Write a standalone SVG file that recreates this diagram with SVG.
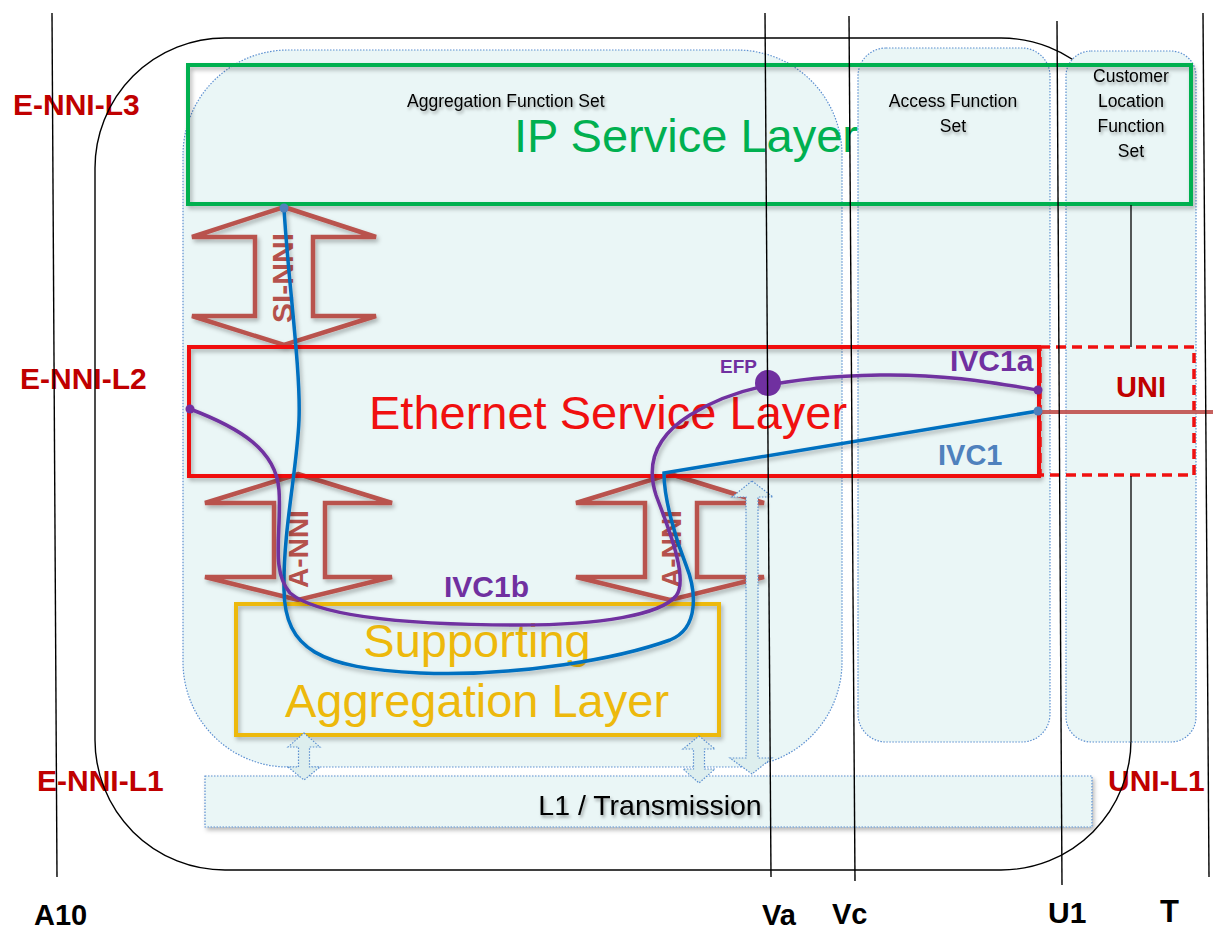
<svg xmlns="http://www.w3.org/2000/svg" width="1213" height="933" viewBox="0 0 1213 933">
<defs>
<filter id="sh" x="-10%" y="-10%" width="130%" height="130%">
<feDropShadow dx="2" dy="3" stdDeviation="2" flood-color="#000" flood-opacity="0.28"/>
</filter>
<filter id="tsh" x="-10%" y="-30%" width="130%" height="180%">
<feDropShadow dx="1.5" dy="2.5" stdDeviation="1.5" flood-color="#000" flood-opacity="0.35"/>
</filter>
</defs>
<style>
.fs{fill:#EAF6F6;stroke:#5B8FD0;stroke-width:1.2;stroke-dasharray:1.5 1.5}
.blk{fill:none;stroke:#000;stroke-width:1.4}
.if{fill:none;stroke:#C0504D;stroke-width:4;filter:url(#sh)}
.lab{font-family:"Liberation Sans",Arial,sans-serif;font-weight:bold;font-size:30px;fill:#C00000}
.ax{font-family:"Liberation Sans",Arial,sans-serif;font-weight:bold;fill:#000}
.sm{font-family:"Liberation Sans",Arial,sans-serif;font-size:17.5px;fill:#000;filter:url(#tsh)}
.big{font-family:"Liberation Sans",Arial,sans-serif;font-size:47px}
.arr{fill:none;stroke:#B9534E;stroke-width:4.5;stroke-linejoin:miter;filter:url(#sh)}
.rl{font-family:"Liberation Sans",Arial,sans-serif;font-weight:bold;fill:#B5514C}
.da{fill:#DDEEEE;stroke:#5B8FD0;stroke-width:1.2;stroke-dasharray:1.5 1.5}
.ivc{font-family:"Liberation Sans",Arial,sans-serif;font-weight:bold}
</style>

<g id="interface-labels">
<text class="lab" x="13" y="115">E-NNI-L3</text>
<line class="if" x1="9" y1="136" x2="187" y2="136"/>
<text class="lab" x="20" y="389">E-NNI-L2</text>
<line class="if" x1="20" y1="410" x2="190" y2="410"/>
<text class="lab" x="37" y="791">E-NNI-L1</text>
<line class="if" x1="32" y1="803" x2="204" y2="803"/>
<text class="lab" x="1108" y="791">UNI-L1</text>
<line class="if" x1="1095" y1="805" x2="1213" y2="805"/>
</g>

<g id="network-boundary">
<rect class="blk" x="95" y="38" width="1036" height="832" rx="130" ry="130"/>
</g>

<g id="aggregation-function-set">
<rect class="fs" x="183" y="50" width="659" height="717" rx="105" ry="105"/>
<text class="sm" x="407" y="107" font-size="18">Aggregation Function Set</text>
</g>
<g id="access-function-set">
<rect class="fs" x="858" y="48" width="192" height="694" rx="28" ry="28"/>
<text class="sm" x="953" y="107" text-anchor="middle">Access Function</text>
<text class="sm" x="953" y="132" text-anchor="middle">Set</text>
</g>
<g id="customer-location-function-set">
<rect class="fs" x="1066" y="51" width="130" height="691" rx="25" ry="25"/>
<text class="sm" x="1131" y="82" text-anchor="middle">Customer</text>
<text class="sm" x="1131" y="107" text-anchor="middle">Location</text>
<text class="sm" x="1131" y="132" text-anchor="middle">Function</text>
<text class="sm" x="1131" y="157" text-anchor="middle">Set</text>
</g>
<g id="l1-transmission">
<rect class="fs" x="205" y="776" width="887" height="51" filter="url(#sh)"/>
<text x="650" y="815" text-anchor="middle" font-family="'Liberation Sans',Arial,sans-serif" font-size="28.5" fill="#000" filter="url(#tsh)">L1 / Transmission</text>
</g>

<g id="ip-service-layer">
<rect x="188" y="65" width="1003" height="139" fill="none" stroke="#00B050" stroke-width="4" filter="url(#sh)"/>
<text class="big" x="514" y="152" fill="#00B050">IP Service Layer</text>
</g>

<g id="si-nni">
<polygon class="arr" points="284,207 376,237 313,237 313,316 376,316 284,345 192,316 255,316 255,237 192,237"/>
<text class="rl" font-size="30" text-anchor="middle" transform="translate(293,278) rotate(-90)">SI-NNI</text>
</g>
<g id="a-nni-left">
<polygon class="arr" points="298,474 392,503 325,503 325,577 392,577 298,600 205,577 274,577 274,503 205,503"/>
<text class="rl" font-size="28" text-anchor="middle" transform="translate(308,549) rotate(-90)">A-NNI</text>
</g>
<g id="a-nni-right">
<polygon class="arr" points="670,474 764,503 697,503 697,577 764,577 670,600 576,577 645,577 645,503 576,503"/>
<text class="rl" font-size="28" text-anchor="middle" transform="translate(681,549) rotate(-90)">A-NNI</text>
</g>

<g id="ethernet-service-layer">
<rect x="189" y="347" width="850" height="129" fill="none" stroke="#F01010" stroke-width="4" filter="url(#sh)"/>
<text class="big" x="369" y="429" fill="#F01010" font-size="47.5">Ethernet Service Layer</text>
</g>
<g id="uni">
<rect x="1040" y="347" width="154" height="128" fill="none" stroke="#F01010" stroke-width="3.5" stroke-dasharray="10 6"/>
<text class="ivc" x="1116" y="397" font-size="29" fill="#C00000">UNI</text>
</g>
<g id="supporting-aggregation-layer">
<rect x="236" y="604" width="483" height="131" fill="none" stroke="#EDB90C" stroke-width="4" filter="url(#sh)"/>
<text class="big" x="477" y="657" text-anchor="middle" fill="#EDB90C">Supporting</text>
<text class="big" x="477" y="717" text-anchor="middle" fill="#EDB90C">Aggregation Layer</text>
</g>

<g id="connectors">
<line x1="1040" y1="412" x2="1213" y2="412" stroke="#C0504D" stroke-width="4" opacity="0.9"/>
<path d="M284,208 C288,280 301,370 299,420 C297,470 283,530 284,590 C285,650 320,668 420,673 C520,677 620,658 670,640 C700,628 696,590 686,565 C676,540 664,500 664,473 L1038,411" fill="none" stroke="#0070C0" stroke-width="3.5" filter="url(#sh)"/>
<path d="M190,409 C240,428 276,450 279,490 C282,530 270,570 290,593 C320,618 420,625 520,625 C600,625 660,615 676,596 C690,578 665,520 656,495 C648,470 650,440 690,415 C730,390 780,377 880,375 C950,374 1000,384 1038,390" fill="none" stroke="#7030A0" stroke-width="3.5" filter="url(#sh)"/>
<circle cx="284" cy="208" r="4.5" fill="#4F81BD"/>
<circle cx="1038" cy="411" r="4.5" fill="#4F81BD"/>
<circle cx="190" cy="409" r="4.5" fill="#7030A0"/>
<circle cx="1038" cy="390" r="4.5" fill="#7030A0"/>
<circle cx="768" cy="383" r="13" fill="#7030A0"/>
<polygon class="da" points="304,733 320,747 309.5,747 309.5,767 320,767 304,780 288,767 298.5,767 298.5,747 288,747"/>
<polygon class="da" points="699,736 715,749 704.5,749 704.5,769 715,769 699,783 683,769 693.5,769 693.5,749 683,749"/>
<polygon class="da" points="752,481 773,497 758,497 758,758 772,758 752,774 730,758 746,758 746,497 732,497"/>
</g>

<g id="circuit-labels">
<text class="ivc" x="720" y="373" font-size="19" fill="#7030A0">EFP</text>
<text class="ivc" x="950" y="371" font-size="30" fill="#7030A0">IVC1a</text>
<text class="ivc" x="938" y="465" font-size="29" fill="#4F81BD">IVC1</text>
<text class="ivc" x="444" y="597" font-size="30" fill="#7030A0">IVC1b</text>
</g>

<g id="reference-points">
<line x1="1131" y1="205" x2="1131" y2="347" stroke="#000" stroke-width="1.3"/>
<line x1="1131" y1="476" x2="1131" y2="742" stroke="#000" stroke-width="1.3"/>
<line x1="52" y1="13" x2="57" y2="877" stroke="#000" stroke-width="1.4"/>
<line x1="765" y1="13" x2="771" y2="877" stroke="#000" stroke-width="1.4"/>
<line x1="849" y1="16" x2="855" y2="881" stroke="#000" stroke-width="1.4"/>
<line x1="1057" y1="21" x2="1062" y2="885" stroke="#000" stroke-width="1.4"/>
<line x1="1203" y1="13" x2="1209" y2="877" stroke="#000" stroke-width="1.4"/>
<text class="ax" x="34" y="925" font-size="29">A10</text>
<text class="ax" x="762" y="925" font-size="29">Va</text>
<text class="ax" x="832" y="924" font-size="29">Vc</text>
<text class="ax" x="1048" y="923" font-size="30">U1</text>
<text class="ax" x="1160" y="922" font-size="31">T</text>
</g>
</svg>
